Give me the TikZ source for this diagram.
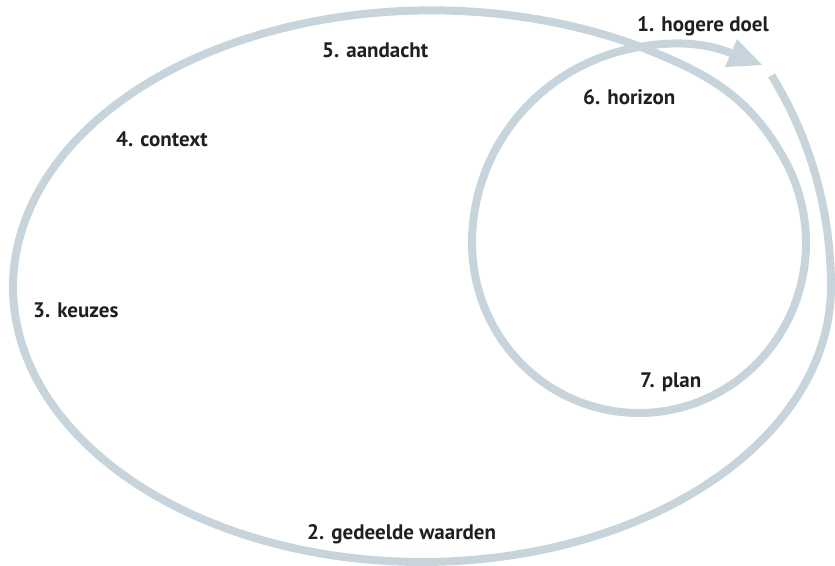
\documentclass[tikz,border=0pt]{standalone}
\usepackage{fontspec}
\setmainfont{PT Sans}
\definecolor{ring}{RGB}{200,212,220}
\definecolor{ink}{RGB}{35,31,32}
\begin{document}
\begin{tikzpicture}[x=1pt,y=-1pt,
  declare function={sc(\t)=1+0.15*(min(\t,0)/42)^2+0.023*(max(\t-240,0)/60)^2;
                    si(\t)=1+0.153*(max(\t-180,0)/90)^2;},
  lbl/.style={anchor=base west, inner sep=0pt, text=ink, font=\fontsize{21}{24}\selectfont\bfseries},
  band/.style={draw=ring, line width=8pt}]
\useasboundingbox (0,0) rectangle (835,565);
% spiral: outer loop, then inner loop ending in the arrow
\draw[band] plot[domain=-42:300, samples=240] ({422+409*sc(\x)*cos(\x)},{287+275*sc(\x)*sin(\x)})
  .. controls (702,70.5) and (746.5,92) .. (783.6,158)
  -- plot[domain=-30:270, samples=200] ({639+167*si(\x)*cos(\x)},{243+170*si(\x)*sin(\x)})
  .. controls (670.5,41.6) and (701,41.4) .. (731,53);
\fill[ring] (737,39) -- (762,65) -- (725,67) -- cycle;
\node[lbl] (l1) at (637,31) {1. hogere doel};
\node[lbl] (l5) at (322,57) {5. aandacht};
\node[lbl] (l6) at (583,104) {6. horizon};
\node[lbl] (l4) at (116,146) {4. context};
\node[lbl] (l3) at (33,317) {3. keuzes};
\node[lbl] (l7) at (640,387) {7. plan};
\node[lbl] (l2) at (307,539) {2. gedeelde waarden};
\end{tikzpicture}
\end{document}
